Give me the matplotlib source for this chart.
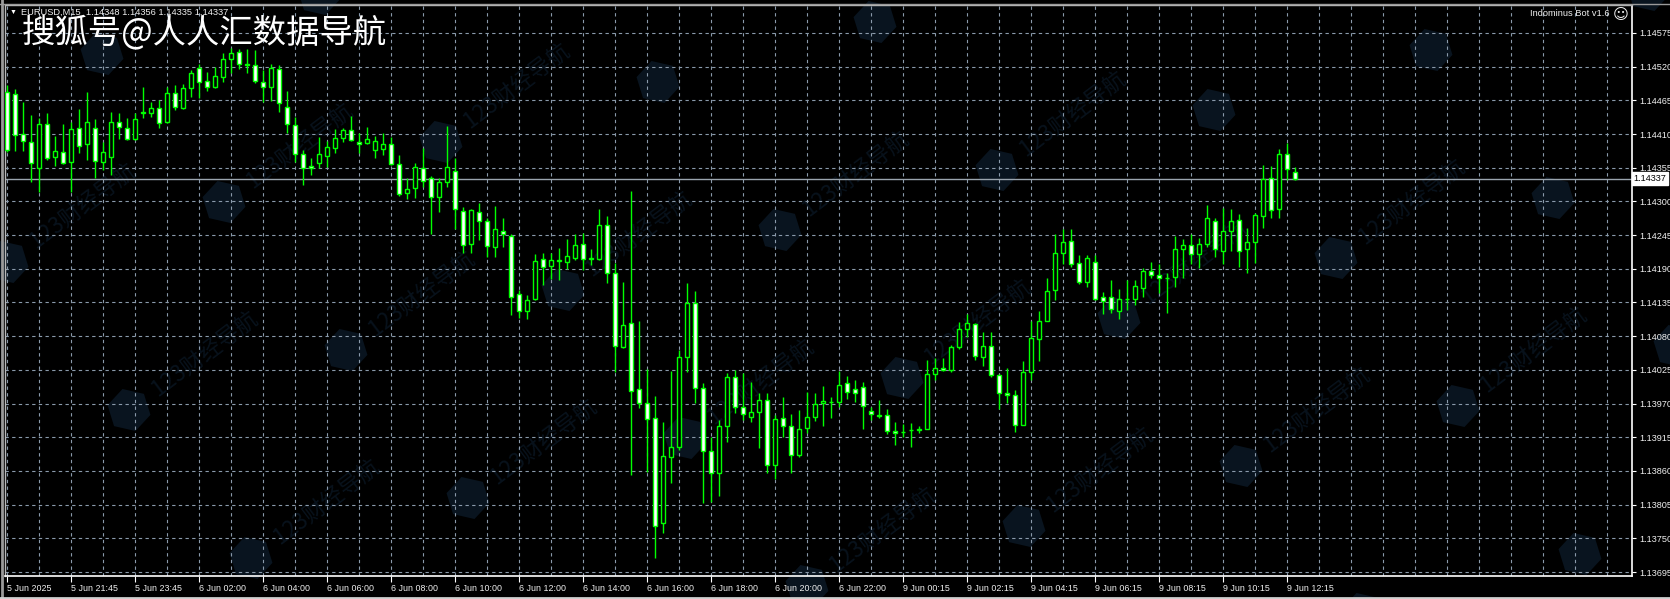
import matplotlib
matplotlib.use('Agg')
import matplotlib.pyplot as plt
import numpy as np
from matplotlib.patches import RegularPolygon
from matplotlib.lines import Line2D
from matplotlib.transforms import IdentityTransform, blended_transform_factory

plt.rcParams['font.family'] = ['Liberation Sans', 'DejaVu Sans']

# EURUSD M15 bars, 5 Jun 19:45 .. 9 Jun 12:30
opens = [1.14479, 1.14476, 1.14410, 1.14397, 1.14355, 1.14427, 1.14373, 1.14381, 1.14365, 1.14420,
         1.14394, 1.14420, 1.14365, 1.14373, 1.14430, 1.14420, 1.14402, 1.14445, 1.14445, 1.14453,
         1.14430, 1.14477, 1.14453, 1.14485, 1.14518, 1.14497, 1.14487, 1.14503, 1.14533, 1.14544,
         1.14525, 1.14523, 1.14495, 1.14487, 1.14516, 1.14454, 1.14425, 1.14378, 1.14358, 1.14363,
         1.14374, 1.14387, 1.14404, 1.14417, 1.14397, 1.14396, 1.14384, 1.14386, 1.14394, 1.14361,
         1.14314, 1.14322, 1.14355, 1.14338, 1.14307, 1.14332, 1.14350, 1.14285, 1.14231, 1.14283,
         1.14268, 1.14226, 1.14252, 1.14244, 1.14149, 1.14121, 1.14141, 1.14206, 1.14195, 1.14203,
         1.14201, 1.14208, 1.14231, 1.14206, 1.14206, 1.14262, 1.14183, 1.14062, 1.14102, 1.13994,
         1.13971, 1.13947, 1.13775, 1.13883, 1.13899, 1.14046, 1.14134, 1.13995, 1.13893, 1.13857,
         1.13933, 1.14013, 1.13964, 1.13948, 1.13956, 1.13976, 1.13870, 1.13947, 1.13933, 1.13886,
         1.13930, 1.13948, 1.13971, 1.13973, 1.13973, 1.14004, 1.13994, 1.13997, 1.13958, 1.13951,
         1.13951, 1.13925, 1.13924, 1.13927, 1.13927, 1.13929, 1.14018, 1.14028, 1.14025, 1.14062,
         1.14092, 1.14100, 1.14046, 1.14064, 1.14017, 1.13987, 1.13984, 1.13935, 1.14022, 1.14076,
         1.14105, 1.14155, 1.14216, 1.14236, 1.14200, 1.14169, 1.14201, 1.14144, 1.14144, 1.14121,
         1.14141, 1.14141, 1.14159, 1.14187, 1.14180, 1.14175, 1.14177, 1.14222, 1.14229, 1.14214,
         1.14231, 1.14268, 1.14219, 1.14252, 1.14270, 1.14222, 1.14234, 1.14276, 1.14338, 1.14288,
         1.14378, 1.14348]
highs = [1.14490, 1.14484, 1.14463, 1.14441, 1.14436, 1.14445, 1.14407, 1.14427, 1.14430, 1.14451,
         1.14479, 1.14435, 1.14397, 1.14446, 1.14445, 1.14436, 1.14445, 1.14487, 1.14463, 1.14466,
         1.14487, 1.14490, 1.14492, 1.14515, 1.14525, 1.14512, 1.14520, 1.14543, 1.14551, 1.14549,
         1.14549, 1.14547, 1.14515, 1.14525, 1.14523, 1.14480, 1.14438, 1.14384, 1.14371, 1.14405,
         1.14399, 1.14418, 1.14420, 1.14440, 1.14412, 1.14422, 1.14407, 1.14412, 1.14405, 1.14376,
         1.14338, 1.14363, 1.14387, 1.14342, 1.14338, 1.14423, 1.14371, 1.14291, 1.14288, 1.14298,
         1.14273, 1.14293, 1.14273, 1.14247, 1.14155, 1.14147, 1.14214, 1.14216, 1.14216, 1.14224,
         1.14239, 1.14247, 1.14249, 1.14222, 1.14288, 1.14276, 1.14200, 1.14169, 1.14317, 1.14105,
         1.14027, 1.13982, 1.13940, 1.14023, 1.14058, 1.14167, 1.14154, 1.14004, 1.13915, 1.13943,
         1.14020, 1.14025, 1.14020, 1.14005, 1.13987, 1.13987, 1.13951, 1.13981, 1.13953, 1.13960,
         1.13989, 1.13987, 1.13999, 1.13981, 1.14023, 1.14015, 1.14009, 1.14005, 1.13964, 1.13976,
         1.13961, 1.13940, 1.13937, 1.13938, 1.13933, 1.14041, 1.14045, 1.14045, 1.14066, 1.14103,
         1.14116, 1.14102, 1.14087, 1.14087, 1.14018, 1.14028, 1.13992, 1.14040, 1.14105, 1.14121,
         1.14175, 1.14247, 1.14255, 1.14255, 1.14213, 1.14213, 1.14213, 1.14152, 1.14172, 1.14157,
         1.14172, 1.14172, 1.14191, 1.14201, 1.14198, 1.14183, 1.14244, 1.14239, 1.14247, 1.14240,
         1.14294, 1.14273, 1.14289, 1.14288, 1.14280, 1.14257, 1.14281, 1.14360, 1.14358, 1.14386,
         1.14396, 1.14356]
lows = [1.14381, 1.14383, 1.14383, 1.14332, 1.14316, 1.14368, 1.14358, 1.14361, 1.14316, 1.14379,
        1.14368, 1.14338, 1.14351, 1.14343, 1.14402, 1.14400, 1.14400, 1.14436, 1.14438, 1.14420,
        1.14428, 1.14449, 1.14451, 1.14471, 1.14469, 1.14480, 1.14485, 1.14495, 1.14510, 1.14516,
        1.14510, 1.14494, 1.14463, 1.14464, 1.14446, 1.14412, 1.14365, 1.14327, 1.14343, 1.14355,
        1.14356, 1.14379, 1.14397, 1.14399, 1.14379, 1.14394, 1.14371, 1.14376, 1.14360, 1.14309,
        1.14304, 1.14306, 1.14324, 1.14247, 1.14283, 1.14324, 1.14255, 1.14216, 1.14216, 1.14237,
        1.14209, 1.14209, 1.14226, 1.14115, 1.14110, 1.14108, 1.14139, 1.14164, 1.14173, 1.14172,
        1.14190, 1.14205, 1.14188, 1.14196, 1.14205, 1.14167, 1.14022, 1.14061, 1.13853, 1.13963,
        1.13858, 1.13718, 1.13759, 1.13840, 1.13894, 1.14022, 1.13971, 1.13808, 1.13809, 1.13819,
        1.13907, 1.13955, 1.13943, 1.13940, 1.13897, 1.13857, 1.13847, 1.13915, 1.13857, 1.13883,
        1.13922, 1.13942, 1.13933, 1.13947, 1.13964, 1.13978, 1.13973, 1.13929, 1.13943, 1.13947,
        1.13920, 1.13902, 1.13915, 1.13899, 1.13922, 1.13929, 1.14009, 1.14023, 1.14022, 1.14059,
        1.14079, 1.14041, 1.14031, 1.14013, 1.13961, 1.13971, 1.13924, 1.13935, 1.14009, 1.14040,
        1.14105, 1.14139, 1.14198, 1.14193, 1.14165, 1.14160, 1.14139, 1.14116, 1.14118, 1.14108,
        1.14123, 1.14131, 1.14144, 1.14175, 1.14151, 1.14118, 1.14160, 1.14175, 1.14198, 1.14191,
        1.14226, 1.14209, 1.14198, 1.14219, 1.14193, 1.14183, 1.14200, 1.14257, 1.14273, 1.14273,
        1.14335, 1.14335]
closes = [1.14384, 1.14409, 1.14399, 1.14363, 1.14427, 1.14371, 1.14383, 1.14363, 1.14418, 1.14391,
          1.14430, 1.14366, 1.14381, 1.14430, 1.14422, 1.14402, 1.14435, 1.14446, 1.14453, 1.14428,
          1.14477, 1.14454, 1.14485, 1.14510, 1.14495, 1.14487, 1.14505, 1.14533, 1.14543, 1.14525,
          1.14523, 1.14497, 1.14487, 1.14518, 1.14461, 1.14427, 1.14378, 1.14355, 1.14355, 1.14378,
          1.14389, 1.14404, 1.14417, 1.14400, 1.14394, 1.14402, 1.14399, 1.14394, 1.14361, 1.14312,
          1.14320, 1.14356, 1.14334, 1.14307, 1.14332, 1.14356, 1.14288, 1.14229, 1.14286, 1.14268,
          1.14227, 1.14255, 1.14247, 1.14144, 1.14121, 1.14139, 1.14203, 1.14193, 1.14205, 1.14204,
          1.14211, 1.14229, 1.14206, 1.14208, 1.14262, 1.14183, 1.14064, 1.14098, 1.13991, 1.13971,
          1.13945, 1.13770, 1.13884, 1.13899, 1.14046, 1.14134, 1.13995, 1.13893, 1.13857, 1.13933,
          1.14013, 1.13964, 1.13953, 1.13956, 1.13976, 1.13870, 1.13945, 1.13933, 1.13886, 1.13929,
          1.13948, 1.13969, 1.13974, 1.13973, 1.14000, 1.13989, 1.13987, 1.13966, 1.13953, 1.13950,
          1.13925, 1.13922, 1.13924, 1.13927, 1.13929, 1.14018, 1.14028, 1.14025, 1.14062, 1.14092,
          1.14102, 1.14048, 1.14064, 1.14017, 1.13987, 1.13984, 1.13935, 1.14022, 1.14077, 1.14105,
          1.14154, 1.14216, 1.14234, 1.14198, 1.14169, 1.14208, 1.14141, 1.14138, 1.14124, 1.14141,
          1.14141, 1.14162, 1.14187, 1.14180, 1.14175, 1.14175, 1.14222, 1.14229, 1.14214, 1.14231,
          1.14273, 1.14222, 1.14252, 1.14268, 1.14219, 1.14234, 1.14278, 1.14337, 1.14286, 1.14378,
          1.14353, 1.14337]

time_labels = ['5 Jun 2025', '5 Jun 21:45', '5 Jun 23:45', '6 Jun 02:00', '6 Jun 04:00', '6 Jun 06:00',
               '6 Jun 08:00', '6 Jun 10:00', '6 Jun 12:00', '6 Jun 14:00', '6 Jun 16:00', '6 Jun 18:00',
               '6 Jun 20:00', '6 Jun 22:00', '9 Jun 00:15', '9 Jun 02:15', '9 Jun 04:15', '9 Jun 06:15',
               '9 Jun 08:15', '9 Jun 10:15', '9 Jun 12:15']
price_ticks = [1.13695, 1.13750, 1.13805, 1.13860, 1.13915, 1.13970, 1.14025, 1.14080, 1.14135,
               1.14190, 1.14245, 1.14300, 1.14355, 1.14410, 1.14465, 1.14520, 1.14575]
last_price = 1.14337

W, H = 1670, 599
fig = plt.figure(figsize=(W / 100, H / 100), dpi=100, facecolor='black')
ax = fig.add_axes([5 / W, 1 - 576 / H, 1627 / W, 571 / H])
ax.set_facecolor('none')

GREEN = '#00ff00'
GRID = '#8a9aab'

o = np.array(opens); h = np.array(highs); l = np.array(lows); c = np.array(closes)
idx = np.arange(len(o))
up = c > o

# 蜡烛：阳线空心，阴线白色实体
ax.vlines(idx, l, h, color=GREEN, lw=1.0, zorder=3)
ax.bar(idx, np.abs(c - o), bottom=np.minimum(o, c), width=0.55,
       color=np.where(up, 'black', 'white'), edgecolor=GREEN, linewidth=1.0, zorder=4)

ax.set_xlim(-0.25, 203.125)
ax.set_ylim(1.136885, 1.146206)

# グリッド
for p in price_ticks:
    ax.axhline(p, color=GRID, lw=0.8, ls=(0, (3, 3)), zorder=1)
for gx in range(0, 204, 4):
    ax.axvline(gx, color=GRID, lw=0.8, ls=(0, (3, 3)), zorder=1)

ax.axhline(last_price, color='#9aa4ae', lw=1.0, zorder=2)

ax.yaxis.tick_right()
ax.set_yticks(price_ticks)
ax.set_yticklabels([f'{p:.5f}' for p in price_ticks])
ax.tick_params(axis='y', colors='white', labelcolor='#f0f0f0', direction='out',
               length=3, width=0.8, labelsize=6.6, pad=2)

ax.set_xticks(np.arange(0, 8 * len(time_labels), 8))
ax.set_xticklabels(time_labels, ha='left')
ax.tick_params(axis='x', colors='white', labelcolor='#f0f0f0', direction='out',
               length=4, width=0.8, labelsize=6.4, pad=2)

for side in ['right', 'bottom']:
    ax.spines[side].set_color('white')
    ax.spines[side].set_linewidth(1.2)
for side in ['top', 'left']:
    ax.spines[side].set_color('#b8b8b8')
    ax.spines[side].set_linewidth(1.0)

# 現在値ラベル
ax.text(1.001, last_price, f'{last_price:.5f}',
        transform=blended_transform_factory(ax.transAxes, ax.transData),
        ha='left', va='center', fontsize=6.6, color='black',
        bbox=dict(boxstyle='square,pad=0.2', fc='white', ec='white'))

# テキスト
fig.text(13 / W, 1 - 12.5 / H, '▼', fontsize=5, color='white', ha='center', va='center')
fig.text(21 / W, 1 - 12.5 / H, 'EURUSD,M15  1.14348 1.14356 1.14335 1.14337',
         fontsize=6.7, color='#f0f0f0', ha='left', va='center')
fig.text(22 / W, 1 - 33 / H, '搜狐号@人人汇数据导航', fontsize=24, color='white',
         ha='left', va='center', family=['Noto Sans CJK SC', 'DejaVu Sans'])
fig.text(1610 / W, 1 - 14 / H, 'Indominus Bot v1.6', fontsize=6.7, color='#f0f0f0',
         ha='right', va='center')
fig.text(1621 / W, 1 - 14 / H, '☺', fontsize=11, color='#f0f0f0', ha='center', va='center',
         family=['DejaVu Sans'])

# 透かし（123财经导航）
a = np.array([122, 148]); b = np.array([217, -60]); org = np.array([563, 290])
for n in range(-6, 7):
    for m in range(-8, 10):
        px, py = org + n * a + m * b
        if -30 < px < W + 30 and -30 < py < H + 30:
            fig.add_artist(RegularPolygon((px, H - py), 6, radius=22, orientation=0.3,
                                          transform=IdentityTransform(),
                                          fc='#09141f', ec='none', zorder=-2))
        # 只画完整落在图内的文字
        if 0 < px + 26 and px + 150 < W and py - 115 > 0 and py < H:
            fig.text((px + 26) / W, 1 - (py - 18) / H, '123财经导航', rotation=37,
                     rotation_mode='anchor', ha='left', va='center', fontsize=16,
                     color='#08121c', family=['Noto Sans CJK SC', 'DejaVu Sans'], zorder=-2)

# 窓枠
fig.add_artist(Line2D([0, 1], [1 - 4 / H, 1 - 4 / H], transform=fig.transFigure, color='#9a9a9a', lw=1))
fig.add_artist(Line2D([2 / W, 2 / W], [0, 1], transform=fig.transFigure, color='#9a9a9a', lw=2))
fig.add_artist(Line2D([0, 1], [1.5 / H, 1.5 / H], transform=fig.transFigure, color='#d0d0d0', lw=2))

fig.savefig('out.png', dpi=100, facecolor='black')
